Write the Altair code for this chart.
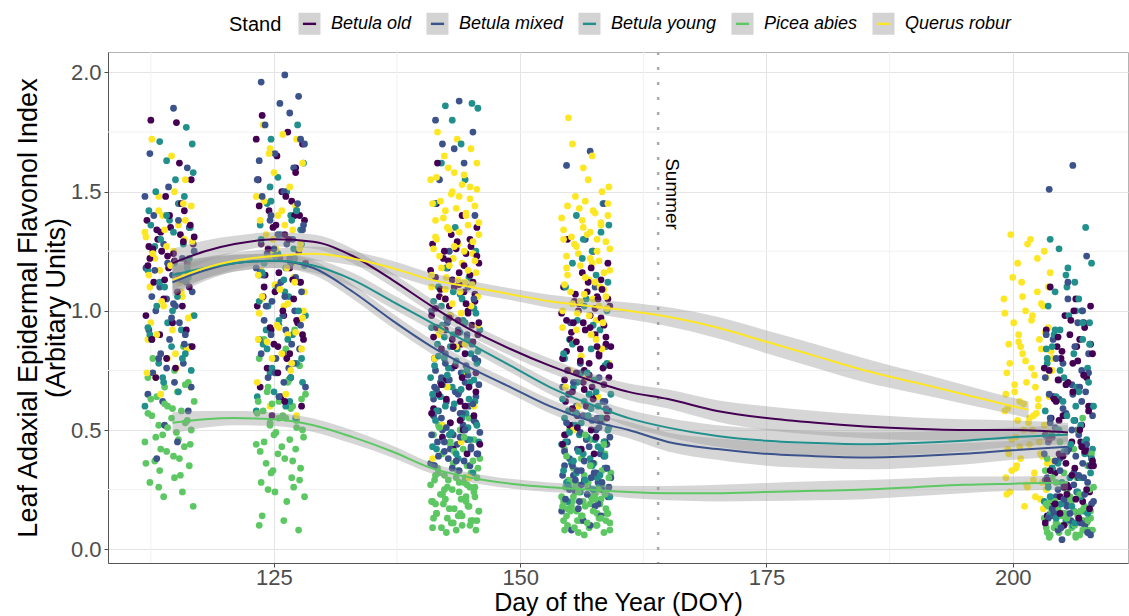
import altair as alt
import pandas as pd

STANDS = ["Betula old", "Betula mixed", "Betula young", "Picea abies", "Querus robur"]
COLORS = ["#440154", "#3B528B", "#21908C", "#5DC863", "#FDE725"]

# jitter offsets (days) read from the point clouds
JIT = [-1.9, 0.7, 2.2, -0.4, 1.5, -2.3, 0.1, 1.1, -1.2, 2.4, -0.8, 0.4, -2.0, 1.8, -0.1,
       0.9, -1.6, 2.0, -0.6, 1.3, -2.4, 0.3, 1.7, -1.0, 2.3, -0.3, 0.6, -1.4, 1.0, -2.1,
       0.0, 2.1, -0.9, 1.4, -1.7, 0.5, -2.2, 1.9, -0.5, 0.8, -1.3, 2.5, -0.2, 1.2, -1.8,
       0.2, 1.6, -1.1, 2.2, -0.7, 0.9, -2.5, 1.5, -0.3, 0.4, -1.5, 2.0, -1.0, 1.1, -2.0,
       1.3, -0.6, 2.4, -1.9, 0.3, -2.2, 1.8, -0.2, 0.7, -1.4, 2.1, -0.9, 1.0, -2.4, 0.5,
       -1.1, 1.6, -0.5, 2.3, -1.7, 0.1, -2.1, 1.2, -0.8, 1.9, -1.3, 0.6, -2.3, 1.4, -0.1]

# sampling dates (cluster centres)
DOY_1, DOY_2, DOY_3, DOY_4, DOY_Q5, DOY_6 = 114.4, 125.7, 143.4, 156.7, 201.6, 205.7

# ---- cluster 1 ----
OLD_1 = [1.80, 1.79, 1.55, 1.48, 1.42, 1.38, 1.35, 1.32, 1.30, 1.28, 1.25, 1.24, 1.22, 1.20, 1.18,
         1.15, 1.12, 1.10, 1.05, 1.02, 0.98, 0.95, 0.92, 0.90, 0.85, 0.80, 0.76, 0.72, 1.62, 1.27,
         1.40, 1.36, 1.33, 1.29, 1.26, 1.21, 1.19, 1.16, 1.13, 1.08, 1.34, 1.31, 1.23, 1.45, 0.88]
MIX_1 = [1.85, 1.66, 1.60, 1.52, 1.45, 1.40, 1.35, 1.28, 1.22, 1.18, 1.15, 1.12, 1.10, 1.08, 1.05,
         1.02, 1.00, 0.95, 0.92, 0.88, 0.85, 0.82, 0.78, 0.74, 0.70, 0.65, 0.58, 0.52, 0.45, 0.38,
         1.25, 1.20, 1.13, 1.06, 0.97, 0.90, 0.80, 0.68, 0.62, 1.38, 1.48, 0.86, 0.76, 1.03, 1.17]
YNG_1 = [1.77, 1.71, 1.70, 1.63, 1.55, 1.50, 1.45, 1.42, 1.38, 1.35, 1.30, 1.28, 1.25, 1.20, 1.17,
         1.14, 1.10, 1.06, 1.02, 0.98, 0.95, 0.92, 0.88, 0.85, 0.82, 0.78, 0.75, 0.72, 0.66, 0.60,
         1.48, 1.40, 1.33, 1.27, 1.22, 1.12, 1.08, 0.90, 0.80, 0.70, 1.58, 1.36, 1.00, 0.93, 1.18]
PIC_1 = [0.85, 0.80, 0.75, 0.72, 0.70, 0.68, 0.66, 0.64, 0.62, 0.60, 0.58, 0.56, 0.55, 0.53, 0.52,
         0.50, 0.48, 0.46, 0.45, 0.43, 0.41, 0.39, 0.37, 0.35, 0.33, 0.31, 0.28, 0.24, 0.22, 0.18,
         0.63, 0.59, 0.57, 0.54, 0.51, 0.49, 0.47, 0.44, 0.42, 0.38, 0.36, 0.30, 0.26, 0.69, 0.61]
QUE_1 = [1.72, 1.65, 1.55, 1.48, 1.44, 1.40, 1.36, 1.33, 1.30, 1.27, 1.25, 1.22, 1.20, 1.17, 1.14,
         1.10, 1.06, 1.02, 0.98, 0.95, 0.92, 0.88, 0.84, 0.80, 0.76, 0.72, 0.68, 0.65, 1.12, 1.31,
         1.50, 1.42, 1.38, 1.34, 1.29, 1.24, 1.19, 1.15, 1.08, 1.04, 0.97, 0.90, 0.82, 0.74, 1.45]

# ---- cluster 2 ----
OLD_2 = [1.82, 1.75, 1.70, 1.65, 1.60, 1.55, 1.50, 1.46, 1.42, 1.38, 1.35, 1.32, 1.28, 1.25, 1.22,
         1.18, 1.15, 1.12, 1.08, 1.05, 1.02, 0.98, 0.95, 0.92, 0.88, 0.85, 0.80, 0.76, 0.72, 0.68,
         0.64, 0.60, 0.56, 1.40, 1.10, 1.48, 1.44, 1.40, 1.36, 1.30, 1.26, 1.20, 1.16, 1.13, 1.06,
         1.00, 0.96, 0.93, 0.90, 0.86, 0.82, 1.72, 1.58, 0.74, 0.62]
MIX_2 = [1.99, 1.96, 1.90, 1.87, 1.83, 1.78, 1.72, 1.66, 1.60, 1.55, 1.50, 1.45, 1.40, 1.36, 1.32,
         1.28, 1.24, 1.20, 1.16, 1.12, 1.08, 1.04, 1.00, 0.96, 0.92, 0.88, 0.84, 0.80, 0.76, 0.72,
         0.68, 0.64, 1.30, 1.15, 0.98, 1.42, 1.38, 1.34, 1.26, 1.22, 1.18, 1.14, 1.10, 1.06, 1.02,
         0.94, 0.90, 0.86, 0.82, 0.78, 0.74, 1.70, 1.48, 0.70, 1.63]
YNG_2 = [1.78, 1.72, 1.62, 1.56, 1.50, 1.45, 1.40, 1.36, 1.32, 1.28, 1.25, 1.22, 1.20, 1.18, 1.15,
         1.12, 1.10, 1.06, 1.02, 0.98, 0.94, 0.90, 0.86, 0.82, 0.78, 0.74, 0.70, 0.66, 0.62, 0.58,
         0.55, 1.24, 1.08, 0.92, 1.34, 1.46, 1.38, 1.30, 1.26, 1.23, 1.19, 1.16, 1.13, 1.04, 1.00,
         0.96, 0.88, 0.84, 0.80, 0.76, 0.72, 0.64, 0.60, 1.52, 1.42]
PIC_2 = [0.92, 0.88, 0.84, 0.80, 0.77, 0.74, 0.71, 0.68, 0.65, 0.62, 0.60, 0.58, 0.56, 0.54, 0.52,
         0.50, 0.48, 0.46, 0.44, 0.42, 0.40, 0.38, 0.36, 0.34, 0.32, 0.30, 0.28, 0.26, 0.24, 0.22,
         0.14, 0.12, 0.10, 0.08, 0.55, 0.70, 0.66, 0.63, 0.61, 0.59, 0.57, 0.55, 0.53, 0.51, 0.49,
         0.47, 0.45, 0.43, 0.41, 0.37, 0.33, 0.29, 0.25, 0.20, 0.62]
QUE_2 = [1.78, 1.74, 1.72, 1.68, 1.62, 1.58, 1.52, 1.48, 1.44, 1.40, 1.36, 1.32, 1.28, 1.24, 1.20,
         1.17, 1.14, 1.11, 1.08, 1.05, 1.02, 0.99, 0.96, 0.93, 0.90, 0.87, 0.84, 0.80, 0.75, 0.70,
         0.65, 0.60, 0.56, 1.26, 1.00, 1.46, 1.42, 1.38, 1.34, 1.30, 1.26, 1.22, 1.18, 1.15, 1.12,
         1.09, 1.06, 1.03, 0.97, 0.94, 0.91, 0.88, 0.82, 0.78, 1.66]

# ---- cluster 3 ----
OLD_3 = [1.45, 1.40, 1.35, 1.32, 1.30, 1.28, 1.26, 1.24, 1.22, 1.20, 1.18, 1.16, 1.14, 1.12, 1.10,
         1.08, 1.06, 1.04, 1.02, 1.00, 0.98, 0.96, 0.94, 0.92, 0.90, 0.88, 0.86, 0.84, 0.82, 0.80,
         0.77, 0.74, 0.71, 0.68, 0.65, 0.62, 0.59, 0.56, 0.53, 0.50, 0.47, 0.44, 0.42, 0.40, 1.62,
         1.29, 1.27, 1.25, 1.23, 1.21, 1.19, 1.17, 1.15, 1.13, 1.11, 1.09, 1.07, 1.05, 1.03, 1.01,
         0.99, 0.97, 0.95, 0.93, 0.91, 0.89, 0.87, 0.85, 0.72, 0.69, 0.66, 0.63, 0.60, 0.57, 0.54]
MIX_3 = [1.88, 1.80, 1.75, 1.68, 1.62, 1.55, 1.40, 1.25, 1.10, 1.00, 0.92, 0.86, 0.82, 0.79, 0.76,
         0.74, 0.72, 0.70, 0.68, 0.66, 0.64, 0.62, 0.60, 0.58, 0.57, 0.56, 0.54, 0.53, 0.52, 0.50,
         0.49, 0.48, 0.46, 0.45, 0.44, 0.42, 0.41, 0.40, 0.38, 0.37, 0.36, 0.35, 0.34, 0.33, 0.70,
         0.80, 0.78, 0.77, 0.75, 0.73, 0.71, 0.69, 0.67, 0.65, 0.63, 0.61, 0.59, 0.57, 0.55, 0.53,
         0.51, 0.50, 0.48, 0.47, 0.45, 0.43, 0.42, 0.40, 0.39, 0.37, 0.35, 0.90, 0.95, 1.05, 1.70]
YNG_3 = [1.87, 1.86, 1.85, 1.80, 1.70, 1.62, 1.55, 1.45, 1.35, 1.25, 1.18, 1.14, 1.10, 1.07, 1.04,
         1.01, 0.98, 0.96, 0.94, 0.92, 0.90, 0.88, 0.86, 0.84, 0.82, 0.80, 0.78, 0.76, 0.74, 0.72,
         0.70, 0.68, 0.66, 0.64, 0.62, 0.60, 0.57, 0.54, 0.51, 0.48, 0.45, 0.42, 0.38, 0.35, 0.32,
         1.08, 1.05, 1.02, 0.99, 0.97, 0.95, 0.93, 0.91, 0.89, 0.87, 0.85, 0.83, 0.81, 0.79, 0.77,
         0.75, 0.73, 0.71, 0.69, 0.67, 0.65, 0.63, 0.61, 0.58, 0.55, 0.52, 0.49, 0.46, 0.43, 0.40]
PIC_3 = [0.55, 0.52, 0.50, 0.48, 0.46, 0.44, 0.42, 0.40, 0.38, 0.36, 0.35, 0.34, 0.33, 0.32, 0.31,
         0.30, 0.29, 0.28, 0.27, 0.26, 0.25, 0.24, 0.23, 0.22, 0.21, 0.20, 0.19, 0.18, 0.17, 0.16,
         0.15, 0.14, 0.13, 0.12, 0.11, 0.10, 0.09, 0.08, 0.07, 0.30, 0.20, 0.15, 0.25, 0.12, 0.45,
         0.34, 0.32, 0.30, 0.29, 0.27, 0.26, 0.24, 0.23, 0.21, 0.20, 0.18, 0.17, 0.15, 0.14, 0.12,
         0.11, 0.10, 0.09, 0.08, 0.22, 0.19, 0.16, 0.13, 0.28, 0.31, 0.37, 0.41, 0.47, 0.51, 0.26]
QUE_3 = [1.75, 1.72, 1.68, 1.65, 1.62, 1.60, 1.57, 1.55, 1.52, 1.50, 1.48, 1.46, 1.44, 1.42, 1.40,
         1.38, 1.36, 1.34, 1.32, 1.30, 1.28, 1.26, 1.24, 1.22, 1.20, 1.18, 1.16, 1.14, 1.12, 1.10,
         1.08, 1.05, 1.02, 0.98, 0.94, 0.90, 0.85, 0.80, 0.74, 0.68, 0.60, 0.52, 0.45, 0.38, 0.30,
         1.58, 1.56, 1.53, 1.51, 1.49, 1.47, 1.45, 1.43, 1.41, 1.39, 1.37, 1.35, 1.33, 1.31, 1.29,
         1.27, 1.25, 1.23, 1.21, 1.19, 1.17, 1.15, 1.13, 1.11, 1.09, 1.06, 1.03, 0.99, 0.92, 0.86]

# ---- cluster 4 ----
OLD_4 = [1.30, 1.25, 1.20, 1.16, 1.13, 1.10, 1.08, 1.06, 1.04, 1.02, 1.00, 0.98, 0.96, 0.94, 0.92,
         0.90, 0.88, 0.86, 0.84, 0.82, 0.80, 0.78, 0.76, 0.74, 0.72, 0.70, 0.68, 0.66, 0.64, 0.62,
         0.60, 0.58, 0.56, 0.54, 0.52, 0.50, 0.48, 0.45, 0.42, 0.40, 0.95, 0.85, 0.75, 1.05, 0.65,
         1.12, 1.09, 1.07, 1.05, 1.03, 1.01, 0.99, 0.97, 0.95, 0.93, 0.91, 0.89, 0.87, 0.85, 0.83,
         0.81, 0.79, 0.77, 0.75, 0.73, 0.71, 0.69, 0.67, 0.63, 0.59, 0.55, 0.51, 0.47, 0.44, 1.18]
MIX_4 = [1.67, 1.61, 1.45, 1.30, 1.10, 0.95, 0.85, 0.78, 0.72, 0.68, 0.65, 0.62, 0.60, 0.58, 0.56,
         0.54, 0.52, 0.50, 0.48, 0.46, 0.44, 0.42, 0.40, 0.38, 0.36, 0.35, 0.34, 0.33, 0.32, 0.31,
         0.30, 0.29, 0.28, 0.27, 0.26, 0.25, 0.24, 0.22, 0.20, 0.18, 0.16, 0.14, 0.12, 0.10, 0.08,
         0.59, 0.57, 0.55, 0.53, 0.51, 0.49, 0.47, 0.45, 0.43, 0.41, 0.39, 0.37, 0.36, 0.35, 0.34,
         0.33, 0.32, 0.31, 0.30, 0.29, 0.28, 0.27, 0.26, 0.25, 0.23, 0.21, 0.19, 0.17, 0.62, 0.70]
YNG_4 = [1.45, 1.40, 1.36, 1.30, 1.25, 1.20, 1.15, 1.10, 1.05, 1.00, 0.96, 0.92, 0.88, 0.84, 0.80,
         0.77, 0.74, 0.71, 0.68, 0.65, 0.62, 0.60, 0.58, 0.56, 0.54, 0.52, 0.50, 0.48, 0.46, 0.44,
         0.42, 0.40, 0.38, 0.36, 0.34, 0.32, 0.30, 0.28, 0.26, 0.24, 0.22, 0.20, 0.65, 0.55, 0.45,
         1.02, 0.94, 0.86, 0.78, 0.70, 0.66, 0.63, 0.59, 0.57, 0.55, 0.53, 0.51, 0.49, 0.47, 0.45,
         0.43, 0.41, 0.39, 0.37, 0.35, 0.33, 0.31, 0.29, 0.27, 0.25, 1.12, 1.22, 1.33, 0.82, 0.74]
PIC_4 = [0.55, 0.50, 0.46, 0.42, 0.40, 0.38, 0.36, 0.34, 0.32, 0.31, 0.30, 0.29, 0.28, 0.27, 0.26,
         0.25, 0.24, 0.23, 0.22, 0.21, 0.20, 0.19, 0.18, 0.17, 0.16, 0.15, 0.14, 0.13, 0.12, 0.11,
         0.10, 0.09, 0.08, 0.07, 0.06, 0.25, 0.20, 0.15, 0.12, 0.10, 0.18, 0.22, 0.28, 0.33, 0.14,
         0.30, 0.28, 0.27, 0.26, 0.25, 0.24, 0.23, 0.22, 0.21, 0.20, 0.19, 0.18, 0.17, 0.16, 0.15,
         0.14, 0.13, 0.12, 0.11, 0.10, 0.09, 0.08, 0.07, 0.35, 0.39, 0.44, 0.48, 0.21, 0.16, 0.12]
QUE_4 = [1.81, 1.55, 1.50, 1.48, 1.45, 1.43, 1.41, 1.39, 1.37, 1.35, 1.33, 1.31, 1.29, 1.27, 1.25,
         1.23, 1.21, 1.19, 1.17, 1.15, 1.13, 1.11, 1.09, 1.07, 1.05, 1.03, 1.01, 0.99, 0.96, 0.93,
         0.90, 0.87, 0.84, 0.81, 0.78, 0.75, 0.72, 0.68, 0.64, 0.60, 0.55, 0.50, 1.20, 1.30, 1.10,
         1.46, 1.44, 1.42, 1.40, 1.38, 1.36, 1.34, 1.32, 1.30, 1.28, 1.26, 1.24, 1.22, 1.18, 1.16,
         1.14, 1.12, 1.08, 1.06, 1.04, 1.02, 1.00, 0.98, 0.95, 0.92, 1.52, 1.60, 1.65, 1.70, 0.88]

# ---- late-season clusters ----
QUE_5 = [1.32, 1.30, 1.25, 1.20, 1.16, 1.12, 1.08, 1.05, 1.02, 1.00, 0.98, 0.95, 0.93, 0.90, 0.88,
         0.86, 0.84, 0.82, 0.80, 0.78, 0.76, 0.74, 0.72, 0.70, 0.68, 0.66, 0.64, 0.62, 0.60, 0.58,
         0.56, 0.54, 0.52, 0.50, 0.48, 0.46, 0.44, 0.42, 0.40, 0.38, 0.36, 0.34, 0.32, 0.30, 0.28,
         0.26, 0.24, 0.22, 0.20, 0.18, 0.17, 0.65, 0.55, 0.45, 0.35, 0.75, 0.85, 0.50, 0.40, 0.25,
         1.28, 1.22, 1.14, 1.10, 1.06, 1.03, 0.99, 0.96, 0.91, 0.87, 0.83, 0.79, 0.73, 0.69, 0.63,
         0.59, 0.53, 0.49, 0.43, 0.39, 0.33, 0.29, 0.23, 0.19, 0.61, 0.57, 0.47, 0.37, 0.27, 0.21]
OLD_6 = [1.10, 1.05, 1.02, 0.98, 0.95, 0.92, 0.90, 0.88, 0.85, 0.82, 0.80, 0.78, 0.75, 0.72, 0.70,
         0.67, 0.64, 0.60, 0.56, 0.52, 0.48, 0.45, 0.42, 0.40, 0.38, 0.36, 0.34, 0.32, 0.30, 0.28,
         0.26, 0.24, 0.22, 0.20, 0.18, 0.16, 0.14, 0.12, 0.10, 0.85, 0.62, 0.35, 0.27, 0.45, 0.55,
         0.96, 0.93, 0.89, 0.86, 0.83, 0.79, 0.76, 0.73, 0.69, 0.66, 0.63, 0.58, 0.54, 0.50, 0.46,
         0.43, 0.39, 0.37, 0.33, 0.31, 0.29, 0.25, 0.23, 0.21, 0.19, 0.17, 0.15, 0.13, 0.11, 1.00,
         0.71, 0.41, 0.26, 0.35, 0.47]
MIX_6 = [1.61, 1.51, 1.23, 1.05, 0.95, 0.88, 0.82, 0.78, 0.75, 0.72, 0.69, 0.66, 0.63, 0.60, 0.57,
         0.54, 0.51, 0.48, 0.45, 0.42, 0.40, 0.38, 0.36, 0.34, 0.32, 0.30, 0.28, 0.26, 0.24, 0.22,
         0.20, 0.18, 0.16, 0.14, 0.12, 0.10, 0.08, 0.06, 0.04, 0.50, 0.40, 0.30, 0.20, 0.65, 0.15,
         0.74, 0.71, 0.68, 0.65, 0.62, 0.59, 0.56, 0.53, 0.50, 0.47, 0.44, 0.41, 0.39, 0.37, 0.35,
         0.33, 0.31, 0.29, 0.27, 0.25, 0.23, 0.21, 0.19, 0.17, 0.15, 0.13, 0.11, 0.09, 0.07, 0.80,
         0.85, 0.90, 1.00, 1.12, 0.55]
YNG_6 = [1.35, 1.26, 1.20, 1.15, 1.12, 1.08, 1.05, 1.02, 0.98, 0.95, 0.92, 0.88, 0.85, 0.82, 0.80,
         0.76, 0.72, 0.68, 0.64, 0.60, 0.56, 0.52, 0.48, 0.44, 0.40, 0.36, 0.32, 0.28, 0.24, 0.20,
         0.16, 0.12, 0.10, 0.90, 0.70, 0.50, 0.30, 0.14, 1.00, 0.62, 0.42, 0.22, 0.18, 0.78, 0.46,
         1.10, 1.00, 0.92, 0.86, 0.75, 0.66, 0.58, 0.54, 0.50, 0.45, 0.41, 0.38, 0.34, 0.30, 0.26,
         0.22, 0.19, 0.15, 0.13, 0.11, 0.84, 0.95, 1.18, 1.30, 0.60]
PIC_6 = [0.55, 0.48, 0.42, 0.38, 0.35, 0.32, 0.30, 0.28, 0.26, 0.24, 0.22, 0.20, 0.19, 0.18, 0.17,
         0.16, 0.15, 0.14, 0.13, 0.12, 0.11, 0.10, 0.09, 0.08, 0.07, 0.06, 0.05, 0.12, 0.10, 0.08,
         0.15, 0.09, 0.07, 0.11, 0.13, 0.06, 0.20, 0.25, 0.45, 0.50, 0.33, 0.16, 0.10, 0.08, 0.14,
         0.40, 0.30, 0.22, 0.18, 0.16, 0.14, 0.12, 0.11, 0.10, 0.09, 0.08, 0.07, 0.06, 0.05, 0.13,
         0.15, 0.17, 0.19, 0.21, 0.23]

# ---- smoothed fits (loess) with confidence band half-widths ----
KNOTS_B = [114.7, 118, 121, 125, 129, 133, 137, 141, 145, 149, 153, 157, 161, 165, 170, 175,
           180, 185, 190, 195, 200, 205.6]
KNOTS_Q = [114.7, 118, 121, 125, 129, 133, 137, 141, 145, 149, 153, 157, 161, 165, 170, 175,
           180, 185, 190, 195, 200, 201.6]
FIT_OLD = [1.20, 1.25, 1.28, 1.30, 1.29, 1.23, 1.13, 1.02, 0.92, 0.84, 0.77, 0.71, 0.66, 0.63,
           0.58, 0.55, 0.53, 0.515, 0.505, 0.50, 0.50, 0.49]
FIT_MIX = [1.12, 1.17, 1.20, 1.21, 1.18, 1.08, 0.96, 0.85, 0.76, 0.68, 0.60, 0.54, 0.50, 0.45,
           0.42, 0.40, 0.39, 0.385, 0.39, 0.40, 0.415, 0.43]
FIT_YNG = [1.15, 1.18, 1.20, 1.21, 1.19, 1.13, 1.04, 0.95, 0.86, 0.77, 0.68, 0.61, 0.55, 0.51,
           0.475, 0.455, 0.445, 0.44, 0.445, 0.455, 0.47, 0.48]
FIT_PIC = [0.53, 0.545, 0.55, 0.545, 0.52, 0.47, 0.41, 0.34, 0.30, 0.275, 0.26, 0.25, 0.24, 0.235,
           0.235, 0.24, 0.245, 0.25, 0.26, 0.27, 0.275, 0.28]
FIT_QUE = [1.13, 1.18, 1.21, 1.23, 1.24, 1.22, 1.18, 1.13, 1.10, 1.07, 1.04, 1.02, 1.00, 0.975,
           0.93, 0.87, 0.81, 0.75, 0.70, 0.65, 0.60, 0.585]
SE_OLD = [0.06, 0.045, 0.035, 0.03, 0.03, 0.03, 0.03, 0.03, 0.028, 0.028, 0.03, 0.03, 0.035, 0.04,
          0.045, 0.05, 0.05, 0.05, 0.048, 0.045, 0.04, 0.04]
SE_MIX = [0.06, 0.045, 0.035, 0.03, 0.03, 0.03, 0.03, 0.03, 0.028, 0.028, 0.03, 0.03, 0.035, 0.04,
          0.045, 0.05, 0.05, 0.05, 0.048, 0.045, 0.04, 0.04]
SE_YNG = [0.06, 0.045, 0.035, 0.03, 0.03, 0.03, 0.03, 0.03, 0.028, 0.028, 0.03, 0.03, 0.035, 0.04,
          0.045, 0.05, 0.05, 0.05, 0.048, 0.045, 0.04, 0.04]
SE_PIC = [0.045, 0.035, 0.03, 0.028, 0.028, 0.028, 0.025, 0.022, 0.02, 0.02, 0.02, 0.02, 0.025,
          0.03, 0.035, 0.038, 0.04, 0.04, 0.038, 0.035, 0.03, 0.03]
SE_QUE = [0.06, 0.045, 0.035, 0.03, 0.03, 0.03, 0.03, 0.028, 0.025, 0.025, 0.028, 0.03, 0.035,
          0.04, 0.045, 0.048, 0.05, 0.05, 0.045, 0.04, 0.035, 0.035]

SUMMER_DOY = [164]
SUMMER_LABEL = ["Summer"]
SUMMER_LABEL_POS = [165.4, 1.49]
X_TICKS = [125, 150, 175, 200]
Y_TICKS = [0.0, 0.5, 1.0, 1.5, 2.0]
X_MINOR = [112.5, 137.5, 162.5, 187.5]
Y_MINOR = [0.25, 0.75, 1.25, 1.75]

# ---------- build tables ----------
clusters = [
    (DOY_1, [OLD_1, MIX_1, YNG_1, PIC_1, QUE_1]),
    (DOY_2, [OLD_2, MIX_2, YNG_2, PIC_2, QUE_2]),
    (DOY_3, [OLD_3, MIX_3, YNG_3, PIC_3, QUE_3]),
    (DOY_4, [OLD_4, MIX_4, YNG_4, PIC_4, QUE_4]),
    (DOY_Q5, [[], [], [], [], QUE_5]),
    (DOY_6, [OLD_6, MIX_6, YNG_6, PIC_6, []]),
]
rows = []
for centre, groups in clusters:
    n = max(len(g) for g in groups)
    for i in range(n):
        for k, g in enumerate(groups):
            if i < len(g):
                rows.append({"doy": centre + JIT[(i + 11 * k) % len(JIT)], "val": g[i],
                             "Stand": STANDS[k], "hex": COLORS[k]})
points = pd.DataFrame(rows)

fit_rows = []
for k, (fit, se) in enumerate([(FIT_OLD, SE_OLD), (FIT_MIX, SE_MIX), (FIT_YNG, SE_YNG),
                               (FIT_PIC, SE_PIC), (FIT_QUE, SE_QUE)]):
    knots = KNOTS_Q if STANDS[k] == "Querus robur" else KNOTS_B
    for x, v, s in zip(knots, fit, se):
        fit_rows.append({"doy": x, "fit": v, "lo": v - s, "hi": v + s, "Stand": STANDS[k]})
fits = pd.DataFrame(fit_rows)

XS = alt.Scale(domain=[108.15, 211.7], nice=False, zero=False)
YS = alt.Scale(domain=[-0.058, 2.086], nice=False, zero=False)

x_axis = alt.Axis(values=X_TICKS, title="Day of the Year (DOY)", titleFontSize=25,
                  titleFontWeight="normal", titleColor="#000000", titlePadding=2,
                  labelFontSize=22, labelColor="#4D4D4D", labelPadding=0,
                  tickColor="#4D4D4D", tickSize=4, domainColor="#555555",
                  gridColor="#E4E4E4")
y_axis = alt.Axis(values=Y_TICKS, format=".1f",
                  title=["Leaf Adaxial Epidermal Flavonol Index", "(Arbitary Units)"],
                  titleFontSize=27, titleFontWeight="normal", titleColor="#000000",
                  titlePadding=0, titleLineHeight=28,
                  labelFontSize=22, labelColor="#4D4D4D", labelPadding=3,
                  tickColor="#4D4D4D", tickSize=4, domainColor="#555555",
                  gridColor="#E4E4E4")

# legend key: short coloured line (dash) drawn over a grey square (fill)
KEY_PATH = "M-0.6,0H1V-1H-1V1H1V0Z"
legend = alt.Legend(orient="none", legendX=121, legendY=-41, direction="horizontal",
                    title="Stand", titleOrient="left", titleFontSize=20,
                    titleFontWeight="normal", titleColor="#000000", titlePadding=15,
                    labelFontSize=18, labelFontStyle="italic", labelColor="#000000",
                    labelOffset=9, columnPadding=9, symbolSize=484, padding=0,
                    symbolType=KEY_PATH, symbolFillColor="#D3D3D3",
                    symbolStrokeWidth=2.4, symbolDash=[13.2, 400], symbolOpacity=1)

minor_v = alt.Chart(pd.DataFrame({"doy": X_MINOR})).mark_rule(
    color="#F1F1F1", strokeWidth=1).encode(x=alt.X("doy:Q", scale=XS, axis=x_axis))
minor_h = alt.Chart(pd.DataFrame({"val": Y_MINOR})).mark_rule(
    color="#F1F1F1", strokeWidth=1).encode(y=alt.Y("val:Q", scale=YS, axis=y_axis))

pts = alt.Chart(points).mark_circle(size=46, opacity=1).encode(
    x=alt.X("doy:Q", scale=XS, axis=x_axis),
    y=alt.Y("val:Q", scale=YS, axis=y_axis),
    color=alt.Color("hex:N", scale=None),
)

summer = alt.Chart(pd.DataFrame({"doy": SUMMER_DOY})).mark_rule(
    color="#ABABAB", strokeWidth=2.5, strokeDash=[3, 12]).encode(
    x=alt.X("doy:Q", scale=XS, axis=x_axis))

band = alt.Chart(fits).mark_area(opacity=0.4, color="#999999", interpolate="monotone").encode(
    x=alt.X("doy:Q", scale=XS, axis=x_axis),
    y=alt.Y("lo:Q", scale=YS, axis=y_axis),
    y2="hi:Q",
    detail="Stand:N",
)

lines = alt.Chart(fits).mark_line(strokeWidth=2, interpolate="monotone").encode(
    x=alt.X("doy:Q", scale=XS, axis=x_axis),
    y=alt.Y("fit:Q", scale=YS, axis=y_axis),
    stroke=alt.Stroke("Stand:N", scale=alt.Scale(domain=STANDS, range=COLORS), legend=legend),
)

label = alt.Chart(pd.DataFrame({"doy": [SUMMER_LABEL_POS[0]], "val": [SUMMER_LABEL_POS[1]],
                                "txt": SUMMER_LABEL})).mark_text(
    angle=90, fontSize=19, color="#000000", align="center", baseline="middle").encode(
    x=alt.X("doy:Q", scale=XS, axis=x_axis),
    y=alt.Y("val:Q", scale=YS, axis=y_axis),
    text="txt:N",
)

chart = alt.layer(minor_v, minor_h, pts, summer, band, lines, label).properties(
    width=1020, height=511,
    padding={"left": 108, "top": 52, "right": 1, "bottom": 53},
    autosize=alt.AutoSizeParams(type="none"),
).configure(font="Liberation Sans").configure_view(stroke="#B3B3B3", strokeWidth=1)

chart.save("out.html", embed_options={"renderer": "svg", "actions": False})
